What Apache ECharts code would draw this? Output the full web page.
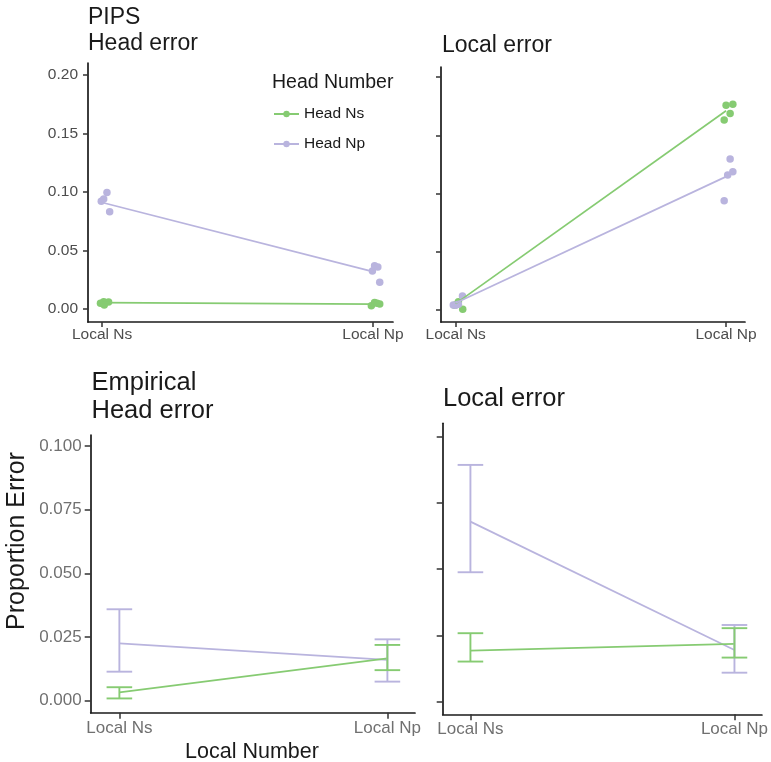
<!DOCTYPE html>
<html><head><meta charset="utf-8">
<script src="https://cdn.jsdelivr.net/npm/echarts@6/dist/echarts.min.js"></script>
<style>html,body{margin:0;padding:0;background:#fff}#c{width:771px;height:762px}</style>
</head><body><div id="c"></div>
<script>
// ---------- data ----------
const localCats = ['Local Ns', 'Local Np'];
const headGroups = ['Head Ns', 'Head Np'];
const pipsTicks = [0, 0.05, 0.10, 0.15, 0.20];
const empTicks = [0, 0.025, 0.05, 0.075, 0.1];

// PIPS – Head error : individual points (per local category) and means
const pipsHead_HeadNs_atNs = [0.0063, 0.0060, 0.0050, 0.0034];
const pipsHead_HeadNs_atNp = [0.0028, 0.0057, 0.0043, 0.0050];
const pipsHead_HeadNp_atNs = [0.0995, 0.0920, 0.0940, 0.0830];
const pipsHead_HeadNp_atNp = [0.0325, 0.0370, 0.0360, 0.0230];
const pipsHead_HeadNs_mean = [0.0055, 0.0042];
const pipsHead_HeadNp_mean = [0.0910, 0.0320];

// PIPS – Local error
const pipsLocal_HeadNs_atNs = [0.0006, 0.0070, 0.0050, 0.0040];
const pipsLocal_HeadNs_atNp = [0.1758, 0.1767, 0.1686, 0.1630];
const pipsLocal_HeadNp_atNs = [0.0043, 0.0120, 0.0050, 0.0040];
const pipsLocal_HeadNp_atNp = [0.1297, 0.1186, 0.1158, 0.0937];
const pipsLocal_HeadNs_mean = [0.0055, 0.1710];
const pipsLocal_HeadNp_mean = [0.0060, 0.1145];

// Empirical – Head error : mean, lower, upper
const empHead_HeadNs_mean = [0.0033, 0.0166];
const empHead_HeadNs_lo   = [0.0009, 0.0120];
const empHead_HeadNs_hi   = [0.0053, 0.0219];
const empHead_HeadNp_mean = [0.0225, 0.0160];
const empHead_HeadNp_lo   = [0.0114, 0.0075];
const empHead_HeadNp_hi   = [0.0359, 0.0241];

// Empirical – Local error
const empLocal_HeadNs_mean = [0.0192, 0.0218];
const empLocal_HeadNs_lo   = [0.0151, 0.0166];
const empLocal_HeadNs_hi   = [0.0258, 0.0277];
const empLocal_HeadNp_mean = [0.0679, 0.0195];
const empLocal_HeadNp_lo   = [0.0488, 0.0109];
const empLocal_HeadNp_hi   = [0.0893, 0.0289];

// horizontal jitter of the individual points (in category units)
const jit_pH_Ns_Ns = [0.006, 0.024, -0.006, 0.008];
const jit_pH_Ns_Np = [-0.006, 0.006, 0.025, 0.015];
const jit_pH_Np_Ns = [0.018, -0.003, 0.006, 0.028];
const jit_pH_Np_Np = [-0.002, 0.006, 0.018, 0.025];
const jit_pL_Ns_Ns = [0.026, 0.010, 0.004, -0.004];
const jit_pL_Ns_Np = [0.000, 0.025, 0.015, -0.007];
const jit_pL_Np_Ns = [-0.009, 0.025, 0.010, 0.000];
const jit_pL_Np_Np = [0.015, 0.025, 0.006, -0.007];

// ---------- chart ----------
const FONT = '"Liberation Sans", Arial, Helvetica, sans-serif';
const GREEN = '#86cb72', PURPLE = '#b9b4de';
const colorOf = {'Head Ns': GREEN, 'Head Np': PURPLE};

const grids = [
  {left: 88, top: 63, width: 305, height: 259},
  {left: 441, top: 67, width: 304, height: 255},
  {left: 90.7, top: 435, width: 324.3, height: 277.7},
  {left: 442.7, top: 423.3, width: 322.3, height: 291}
];
const xRanges = [[0.948, 2.074], [0.9456, 2.070], [0.893, 2.103], [0.895, 2.104]];
const yRanges = [[-0.011, 0.21], [-0.0103, 0.2086], [-0.0047, 0.1043], [-0.0048, 0.105]];
const isTop = i => i < 2;

const xAxes = grids.map((g, i) => ({
  type: 'value', gridIndex: i, min: xRanges[i][0], max: xRanges[i][1],
  splitLine: {show: false},
  axisLine: {onZero: false, lineStyle: {color: '#1a1a1a', width: 1.7}},
  axisTick: {customValues: [1, 2], length: isTop(i) ? 5 : 6, lineStyle: {color: '#333', width: 1.5}},
  axisLabel: {customValues: [1, 2], formatter: v => localCats[Math.round(v) - 1],
    fontFamily: FONT, fontSize: isTop(i) ? 15.5 : 17, color: isTop(i) ? '#4d4d4d' : '#707070',
    margin: isTop(i) ? 5 : 7}
}));
const yAxes = grids.map((g, i) => ({
  type: 'value', gridIndex: i, min: yRanges[i][0], max: yRanges[i][1],
  splitLine: {show: false},
  axisLine: {onZero: false, lineStyle: {color: '#1a1a1a', width: 1.7}},
  axisTick: {customValues: isTop(i) ? pipsTicks : empTicks, length: isTop(i) ? 5 : 6, lineStyle: {color: '#333', width: 1.5}},
  axisLabel: {show: i === 0 || i === 2, customValues: isTop(i) ? pipsTicks : empTicks,
    formatter: v => isTop(i) ? v.toFixed(2) : v.toFixed(3),
    fontFamily: FONT, fontSize: isTop(i) ? 15.5 : 17, color: isTop(i) ? '#4d4d4d' : '#707070',
    margin: isTop(i) ? 10 : 9}
}));

const series = [];
function meanLine(gi, name, means) {
  series.push({type: 'line', name, xAxisIndex: gi, yAxisIndex: gi, symbol: 'circle', showSymbol: false,
    symbolSize: 7, color: colorOf[name], lineStyle: {width: 1.7, color: colorOf[name]},
    data: means.map((v, k) => [k + 1, v]), silent: true, z: 3});
}
function points(gi, name, atNs, jNs, atNp, jNp) {
  const d = [];
  atNs.forEach((v, k) => d.push([1 + jNs[k], v]));
  atNp.forEach((v, k) => d.push([2 + jNp[k], v]));
  series.push({type: 'scatter', name, xAxisIndex: gi, yAxisIndex: gi, symbolSize: 7.5,
    itemStyle: {color: colorOf[name], opacity: 1}, data: d, silent: true, z: 2});
}
function errBars(gi, name, lo, hi) {
  const col = colorOf[name];
  series.push({type: 'custom', name, xAxisIndex: gi, yAxisIndex: gi, silent: true, z: 4,
    data: lo.map((v, k) => [k + 1, v, hi[k]]),
    renderItem(params, api) {
      const a = api.coord([api.value(0), api.value(1)]);
      const b = api.coord([api.value(0), api.value(2)]);
      const hw = 12.8;
      const st = {stroke: col, lineWidth: 1.9};
      return {type: 'group', children: [
        {type: 'line', shape: {x1: a[0], y1: a[1], x2: b[0], y2: b[1]}, style: st},
        {type: 'line', shape: {x1: a[0] - hw, y1: a[1], x2: a[0] + hw, y2: a[1]}, style: st},
        {type: 'line', shape: {x1: b[0] - hw, y1: b[1], x2: b[0] + hw, y2: b[1]}, style: st}
      ]};
    }});
}

// lines first (so legend icon = line + dot)
meanLine(0, 'Head Ns', pipsHead_HeadNs_mean);
meanLine(0, 'Head Np', pipsHead_HeadNp_mean);
points(0, 'Head Ns', pipsHead_HeadNs_atNs, jit_pH_Ns_Ns, pipsHead_HeadNs_atNp, jit_pH_Ns_Np);
points(0, 'Head Np', pipsHead_HeadNp_atNs, jit_pH_Np_Ns, pipsHead_HeadNp_atNp, jit_pH_Np_Np);

meanLine(1, 'Head Ns', pipsLocal_HeadNs_mean);
meanLine(1, 'Head Np', pipsLocal_HeadNp_mean);
points(1, 'Head Ns', pipsLocal_HeadNs_atNs, jit_pL_Ns_Ns, pipsLocal_HeadNs_atNp, jit_pL_Ns_Np);
points(1, 'Head Np', pipsLocal_HeadNp_atNs, jit_pL_Np_Ns, pipsLocal_HeadNp_atNp, jit_pL_Np_Np);

meanLine(2, 'Head Np', empHead_HeadNp_mean);
meanLine(2, 'Head Ns', empHead_HeadNs_mean);
errBars(2, 'Head Np', empHead_HeadNp_lo, empHead_HeadNp_hi);
errBars(2, 'Head Ns', empHead_HeadNs_lo, empHead_HeadNs_hi);

meanLine(3, 'Head Np', empLocal_HeadNp_mean);
meanLine(3, 'Head Ns', empLocal_HeadNs_mean);
errBars(3, 'Head Np', empLocal_HeadNp_lo, empLocal_HeadNp_hi);
errBars(3, 'Head Ns', empLocal_HeadNs_lo, empLocal_HeadNs_hi);

const titleStyle = (size, lh) => ({fontFamily: FONT, fontSize: size, lineHeight: lh, fontWeight: 'normal', color: '#1a1a1a'});
const option = {
  animation: false,
  backgroundColor: '#fff',
  title: [
    {text: 'PIPS\nHead error', left: 88, top: 5, padding: 0, textStyle: titleStyle(23, 26)},
    {text: 'Local error', left: 442, top: 33, padding: 0, textStyle: titleStyle(23, 26)},
    {text: 'Empirical\nHead error', left: 91.5, top: 369, padding: 0, textStyle: titleStyle(25.5, 28)},
    {text: 'Local error', left: 443, top: 384.5, padding: 0, textStyle: titleStyle(25.5, 28)},
    {text: 'Head Number', left: 272, top: 72, padding: 0, textStyle: titleStyle(19.5, 22)},
    {text: 'Local Number', left: 252, top: 740, textAlign: 'center', padding: 0, textStyle: titleStyle(21.5, 24)}
  ],
  graphic: [{
    type: 'text', x: 17, y: 541, rotation: Math.PI / 2,
    style: {text: 'Proportion Error', font: '25px ' + FONT, fill: '#1a1a1a', align: 'center', verticalAlign: 'middle'}
  }],
  legend: {
    data: headGroups, orient: 'vertical', left: 273, top: 105, padding: 0,
    itemWidth: 25, itemHeight: 8, itemGap: 12, itemTextGap: 14, selectedMode: false,
    textStyle: {fontFamily: FONT, fontSize: 15.5, lineHeight: 18, color: '#1a1a1a'}
  },
  grid: grids,
  xAxis: xAxes,
  yAxis: yAxes,
  series
};
const chart = echarts.init(document.getElementById('c'), null, {renderer: 'canvas'});
chart.setOption(option);
</script>
</body></html>
